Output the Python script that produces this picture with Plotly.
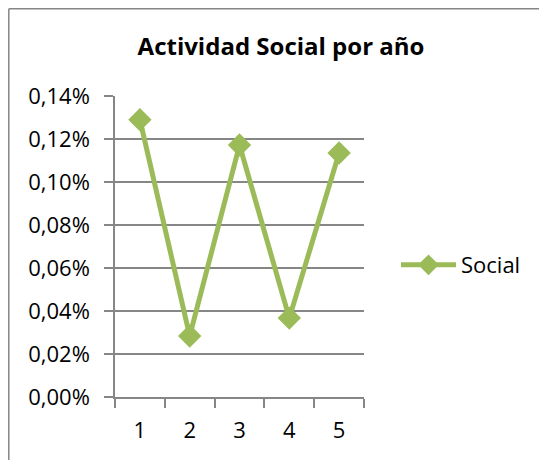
import plotly.graph_objects as go

# Data
years = ["1", "2", "3", "4", "5"]
social = [0.00129, 0.000284, 0.001172, 0.000367, 0.001135]
y_ticks = [0, 0.0002, 0.0004, 0.0006, 0.0008, 0.001, 0.0012, 0.0014]

GREEN = "#9BBB59"
GRID = "#868686"
FONT = "Open Sans"

fig = go.Figure(go.Scatter(
    x=years,
    y=social,
    mode="lines+markers",
    name="Social",
    line=dict(color=GREEN, width=5),
    marker=dict(symbol="diamond", size=18, color=GREEN),
))

# the page body adds an 8px margin, so shift everything up-left by 8
# and shrink the figure so the page does not scroll
OFF = 8
# plot area in page pixels: x 115..364, y 96..397
L, R, T, B = 115 - OFF, 364 - OFF, 96 - OFF, 397 - OFF
W, H = 547 - OFF, 460 - OFF


def px(x):
    return (x - OFF - L) / (R - L)


def py(y):
    return (B - (y - OFF)) / (B - T)


# outer chart frame: only its top and left edges are inside the view
frame = dict(type="line", xref="paper", yref="paper",
             line=dict(color=GRID, width=1.5), layer="below")

fig.update_layout(
    width=W,
    height=H,
    margin=dict(l=L, r=W - R, t=T, b=H - B, pad=0),
    paper_bgcolor="white",
    plot_bgcolor="white",
    separators=",.",
    font=dict(family=FONT, size=22, color="black"),
    title=dict(
        text="<b>Actividad Social por año</b>",
        x=px(281), xanchor="center", xref="paper",
        y=1 - (47 - OFF) / H, yanchor="middle",
        font=dict(family=FONT, size=24, color="black"),
    ),
    showlegend=True,
    legend=dict(
        x=px(396), y=py(265), xanchor="left", yanchor="middle",
        font=dict(family=FONT, size=22, color="black"),
        itemwidth=55,
        bgcolor="rgba(0,0,0,0)",
    ),
    xaxis=dict(
        type="category",
        range=[-0.5, 4.5],
        tickson="boundaries",
        ticks="outside",
        ticklen=9,
        tickcolor=GRID,
        tickwidth=1.5,
        showgrid=False,
        showline=True,
        linecolor=GRID,
        linewidth=1.5,
        ticklabelstandoff=13,
        tickfont=dict(family=FONT, size=22),
        fixedrange=True,
    ),
    yaxis=dict(
        range=[0, 0.0014],
        tickvals=y_ticks,
        tickformat=".2%",
        ticks="outside",
        ticklen=9,
        tickcolor=GRID,
        tickwidth=1.5,
        showgrid=True,
        gridcolor=GRID,
        gridwidth=1.5,
        showline=True,
        linecolor=GRID,
        linewidth=1.5,
        zeroline=False,
        ticklabelstandoff=10,
        tickfont=dict(family=FONT, size=22),
        fixedrange=True,
    ),
    shapes=[
        dict(frame, x0=px(8.8), x1=px(560), y0=py(8.8), y1=py(8.8)),
        dict(frame, x0=px(8.8), x1=px(8.8), y0=py(8.8), y1=py(480)),
    ],
)

fig.write_html("out.html")
